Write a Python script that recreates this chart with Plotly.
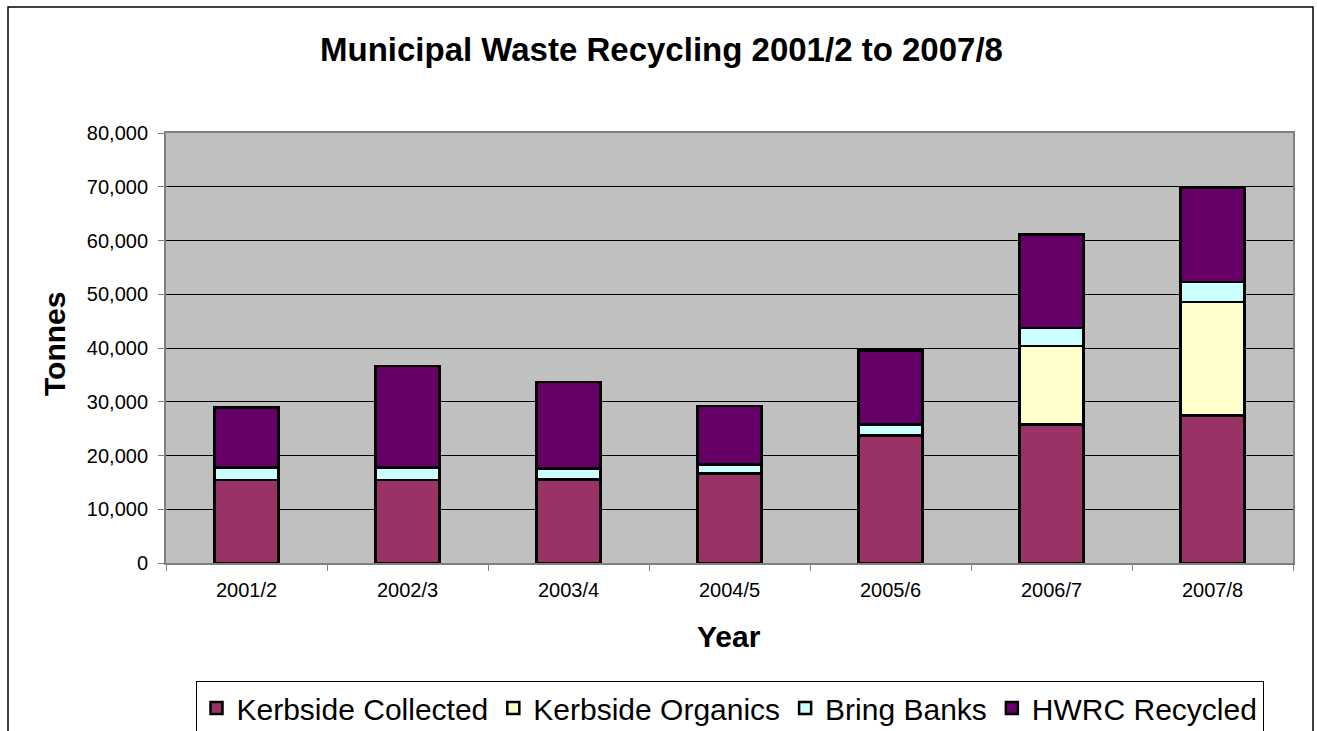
import plotly.graph_objects as go

# Financial years on the category axis
years = ["2001/2", "2002/3", "2003/4", "2004/5", "2005/6", "2006/7", "2007/8"]

# Tonnes recycled per stream (stacked from the bottom up)
kerbside_collected = [15400, 15400, 15570, 16630, 23700, 25800, 27420]
kerbside_organics = [0, 0, 0, 0, 0, 14570, 21140]
bring_banks = [2350, 2350, 1990, 1670, 2050, 3350, 3720]
hwrc_recycled = [11150, 18900, 16110, 10910, 13750, 17380, 17490]

series = [
    ("Kerbside Collected", kerbside_collected, "#993366"),
    ("Kerbside Organics", kerbside_organics, "#FFFFCC"),
    ("Bring Banks", bring_banks, "#CCFFFF"),
    ("HWRC Recycled", hwrc_recycled, "#660066"),
]

W, H = 1317, 731
L, R, T, B = 166, 24, 133, 168
PW, PH = W - L - R, H - T - B


def px_x(x):
    return (x - L) / PW


def px_y(y):
    return 1 - (y - T) / PH


FONT = "Liberation Sans, Arial, sans-serif"

fig = go.Figure()
for name, vals, color in series:
    fig.add_trace(go.Bar(
        x=years, y=vals, name=name,
        marker=dict(color=color, line=dict(color="black", width=2.5)),
    ))

fig.update_layout(
    width=W, height=H,
    margin=dict(l=L, r=R, t=T, b=B, autoexpand=False),
    barmode="stack", bargap=0.6,
    paper_bgcolor="white", plot_bgcolor="#C0C0C0",
    font=dict(family=FONT, color="black"),
    showlegend=True,
    legend=dict(
        orientation="h", x=0.5, xanchor="center",
        y=px_y(681), yanchor="top",
        font=dict(size=30, family=FONT),
        bordercolor="black", borderwidth=1, bgcolor="white",
        traceorder="normal", itemwidth=30,
    ),
)

fig.update_xaxes(
    type="category", tickson="boundaries",
    ticks="outside", ticklen=6, tickcolor="#808080", tickwidth=1,
    showline=True, linecolor="#808080", linewidth=2, mirror=True,
    showgrid=False, tickfont=dict(size=20, family=FONT),
    ticklabelstandoff=8,
)
fig.update_yaxes(
    range=[0, 80000], dtick=10000, tickformat=",d",
    ticks="outside", ticklen=6, tickcolor="#808080", tickwidth=1,
    showline=True, linecolor="#808080", linewidth=2, mirror=True,
    showgrid=True, gridcolor="black", gridwidth=1,
    tickfont=dict(size=20, family=FONT), zeroline=False,
    ticklabelstandoff=6,
)

# Chart title and axis titles
fig.add_annotation(
    text="<b>Municipal Waste Recycling 2001/2 to 2007/8</b>",
    xref="paper", yref="paper", x=px_x(661), y=px_y(50),
    xanchor="center", yanchor="middle", showarrow=False,
    font=dict(size=33, family=FONT),
)
fig.add_annotation(
    text="<b>Tonnes</b>", textangle=-90,
    xref="paper", yref="paper", x=px_x(54), y=px_y(344),
    xanchor="center", yanchor="middle", showarrow=False,
    font=dict(size=30, family=FONT),
)
fig.add_annotation(
    text="<b>Year</b>",
    xref="paper", yref="paper", x=px_x(729), y=px_y(636),
    xanchor="center", yanchor="middle", showarrow=False,
    font=dict(size=30, family=FONT),
)

# Outer chart-area frame
fig.add_shape(
    type="rect", xref="paper", yref="paper",
    x0=px_x(8), x1=px_x(1313), y0=px_y(760), y1=px_y(7),
    line=dict(color="black", width=1.5), fillcolor="rgba(0,0,0,0)",
    layer="below",
)

fig.write_html("out.html")
